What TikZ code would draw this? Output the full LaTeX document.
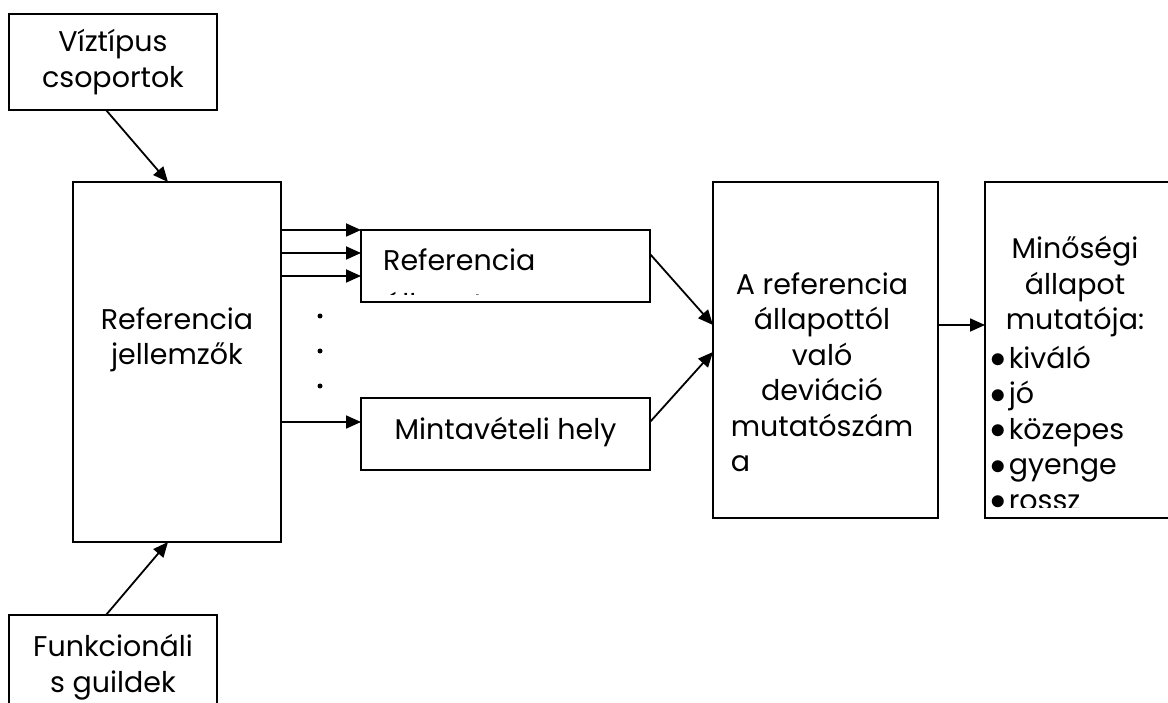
\documentclass[tikz,border=0pt]{standalone}
\usepackage{fontspec}
\usepackage{graphicx}
\setmainfont{Poppins}
\usetikzlibrary{arrows.meta,calc}
\newcommand{\blt}{\raisebox{0.5pt}{\scalebox{1.25}{$\bullet$}}\hspace{3pt}}
\begin{document}
\begin{tikzpicture}[x=1pt,y=-1pt,
  box/.style={draw,line width=1.8pt,inner sep=0pt,outer sep=0pt},
  txt/.style={font=\fontsize{28.5}{35.5}\selectfont,inner sep=0pt,align=center},
  arr/.style={line width=1.8pt,-{Triangle[length=15pt,width=13pt]}},
  dot/.style={circle,fill,inner sep=0pt,minimum size=5pt},
]
\clip (0,0) rectangle (1168,703);
\fill[white] (0,0) rectangle (1168,703);
% boxes
\node[box,minimum width=208pt,minimum height=96pt] (viz) at (113,62) {};
\node[box,minimum width=208pt,minimum height=360pt] (ref) at (177,362) {};
\node[box,minimum width=208pt,minimum height=100pt] (fun) at (113,665) {};
\node[box,minimum width=289pt,minimum height=72pt] (ra) at (505.5,266) {};
\node[box,minimum width=289pt,minimum height=72pt] (mh) at (505.5,434) {};
\node[box,minimum width=225pt,minimum height=336pt] (dev) at (825.5,350) {};
\node[box,minimum width=195pt,minimum height=336pt] (min) at (1082.5,350) {};
% texts
\node[txt] (viztxt) at (113,62) {Víztípus\\csoportok};
\node[txt] (reftxt) at (177,340) {Referencia\\jellemzők};
\node[txt] (funtxt) at (113,667) {Funkcionáli\\s guildek};
\begin{scope}
  \clip (ra.north west) rectangle ($(ra.south east)+(0,-7)$);
  \node[txt,align=left,anchor=north west] (ratxt) at (383,249) {Referencia\\[8pt]állapot};
\end{scope}
\node[txt] (mhtxt) at (505.5,432) {Mintavételi hely};
\node[txt] (devtxt) at (822,372) {A referencia\\állapottól\\való\\deviáció\\mutatószám\\\rlap{a}\phantom{mutatószám}};
\node[txt] (mintxt) at (1075,287) {Minőségi\\állapot\\mutatója:};
\begin{scope}
  \clip (min.north west) rectangle ($(min.south east)+(0,-11)$);
  \node[txt,align=left,anchor=west] (listtxt) at (990,428) {\blt kiváló\\\blt jó\\\blt közepes\\\blt gyenge\\\blt rossz};
\end{scope}
% dots
\node[dot] (d1) at (320,316) {};
\node[dot] (d2) at (320,351) {};
\node[dot] (d3) at (320,386) {};
% connectors
\draw[arr] ($(viz.south)+(-7,0)$) -- ($(ref.north)+(-9,0)$);
\draw[arr] ($(fun.north)+(-7,0)$) -- ($(ref.south)+(-9,0)$);
\draw[arr] (ref.east |- ra.north) -- (ra.north west);
\draw[arr] ($(ref.east |- ra.north)+(0,23)$) -- ($(ra.north west)+(0,23)$);
\draw[arr] ($(ref.east |- ra.north)+(0,46)$) -- ($(ra.north west)+(0,46)$);
\draw[arr] ($(ref.east |- mh.north)+(0,24)$) -- ($(mh.north west)+(0,24)$);
\draw[arr] ($(ra.east)+(0,-12)$) -- ($(dev.west)+(0,-25)$);
\draw[arr] ($(mh.east)+(0,-12)$) -- ($(dev.west)+(0,2)$);
\draw[arr] ($(dev.east)+(0,-25)$) -- ($(min.west)+(0,-25)$);
\end{tikzpicture}
\end{document}
